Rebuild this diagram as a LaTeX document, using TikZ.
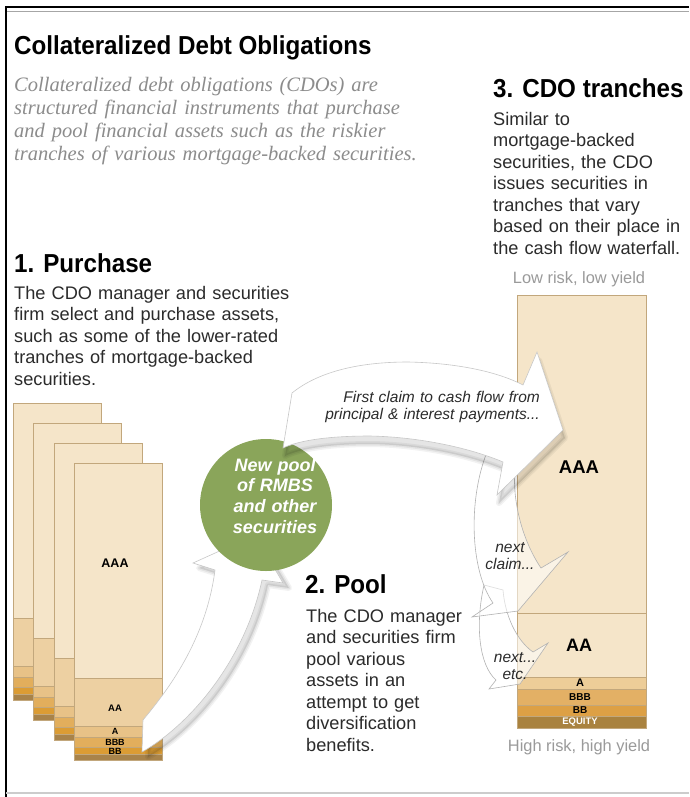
\documentclass[tikz,border=0pt]{standalone}
\usepackage{fontspec}
\setmainfont{Liberation Sans}
\newfontfamily\headfont[FakeStretch=0.93]{Liberation Sans}
\newfontfamily\serifit{Liberation Serif}
\definecolor{bodytext}{HTML}{2B2B2B}
\definecolor{introgrey}{HTML}{8C8C8C}
\definecolor{riskgrey}{HTML}{9A9A9A}
\definecolor{cAAA}{HTML}{F5E5C9}
\definecolor{cAA}{HTML}{EDD0A2}
\definecolor{cA}{HTML}{E8C287}
\definecolor{cBBB}{HTML}{E2AE5C}
\definecolor{cBB}{HTML}{DB9C34}
\definecolor{cEQ}{HTML}{A8834A}
\definecolor{rA}{HTML}{EDCD98}
\definecolor{rBBB}{HTML}{E3B065}
\definecolor{rBB}{HTML}{DDA045}
\definecolor{rEQ}{HTML}{A9823F}
\definecolor{cardline}{HTML}{C2A77C}
\definecolor{poolgreen}{HTML}{8AA55A}
\def\pathArrowOne{(142,752) -- (143,720) .. controls (168,690) and (206,640) .. (215,570)
  -- (193,563) -- (255,535) -- (283,583) -- (262,580)
  .. controls (245,660) and (190,725) .. (142,752) -- cycle}
\def\pathArrowTwo{(292,393) .. controls (318,372) and (358,362) .. (408,362)
  .. controls (458,363) and (498,372) .. (523,385)
  -- (537,352) -- (563,430) -- (497,495) -- (503,462)
  .. controls (470,448) and (420,437) .. (370,436)
  .. controls (330,436) and (300,440) .. (283,448) -- cycle}
\begin{document}
\begin{tikzpicture}[x=1pt,y=-1pt,
  headtext/.style={anchor=base west, inner sep=0pt, text=black,
    font=\headfont\bfseries\fontsize{26}{30}\selectfont},
  bodytxt/.style={anchor=base west, inner sep=0pt, align=left, text width=#1,
    text=bodytext, font=\fontsize{18.2}{21.5}\selectfont},
  riskl/.style={anchor=base, inner sep=0pt, text=riskgrey,
    font=\fontsize{16.4}{18}\selectfont},
  smalllab/.style={anchor=center, inner sep=0pt, text=black,
    font=\bfseries\fontsize{#1}{#1}\selectfont},
  bigarrow/.style={fill=white, draw=black!22, line width=0.6pt, line join=miter},
  softshadow/.style={black, opacity=#1, line join=round},
  ghostarrow/.style={fill=white, fill opacity=0.55, draw=black!30, line width=0.6pt},
  claimtxt/.style={inner sep=0pt, text=bodytext, font=\itshape\fontsize{15.5}{17.5}\selectfont}
]
\useasboundingbox (0,0) rectangle (689,797);
\fill[white] (0,0) rectangle (689,797);
% frame
\draw[black, line width=2pt] (5,7.5) -- (689,7.5);
\draw[black!35, line width=0.8pt] (7,11) -- (689,11);
\draw[black, line width=2pt] (6,6.5) -- (6,797);
\draw[black!20, line width=2pt] (6,793) -- (689,793);

% headings and texts
\node[headtext] (title) at (14,55) {Collateralized Debt Obligations};
\node[anchor=base west, inner sep=0pt, align=left, text width=440, text=introgrey,
  font=\serifit\itshape\fontsize{20.5}{22.7}\selectfont] (intro) at (14,92)
  {Collateralized debt obligations (CDOs) are\\structured financial instruments that purchase\\and pool financial assets such as the riskier\\tranches of various mortgage-backed securities.};
\node[headtext] (h3) at (493,98) {3. CDO tranches};
\node[bodytxt=200] (t3) at (493,125)
  {Similar to\\mortgage-backed\\securities, the CDO\\issues securities in\\tranches that vary\\based on their place in\\the cash flow waterfall.};
\node[headtext] (h1) at (14,272) {1. Purchase};
\node[bodytxt=300] (t1) at (14,299)
  {The CDO manager and securities\\firm select and purchase assets,\\such as some of the lower-rated\\tranches of mortgage-backed\\securities.};
\node[headtext] (h2) at (305,593) {2. Pool};
\node[bodytxt=180] (t2) at (306,622)
  {The CDO manager\\and securities firm\\pool various\\assets in an\\attempt to get\\diversification\\benefits.};

% stack of securities
\foreach \x/\y in {13/403,33/423,54/443,74/463} {
  \fill[cAAA] (\x,\y) rectangle ++(88,215);
  \fill[cAA] (\x,\y+215) rectangle ++(88,48);
  \fill[cA] (\x,\y+263) rectangle ++(88,11);
  \fill[cBBB] (\x,\y+274) rectangle ++(88,10);
  \fill[cBB] (\x,\y+284) rectangle ++(88,7);
  \fill[cEQ] (\x,\y+291) rectangle ++(88,6);
  \foreach \b in {215,263,274,284,291} {
    \draw[cardline, line width=0.5pt] (\x,\y+\b) -- ++(88,0);
  }
  \draw[cardline, line width=0.6pt] (\x,\y) rectangle ++(88,297);
}
\node[smalllab=12.5] (sAAA) at (115,563) {AAA};
\node[smalllab=9.5] (sAA) at (115,708) {AA};
\node[smalllab=9] (sA) at (115,731) {A};
\node[smalllab=9] (sBBB) at (115,742) {BBB};
\node[smalllab=9] (sBB) at (115,751) {BB};

% CDO tranche column
\fill[cAAA] (517,295) rectangle (646,677);
\fill[rA] (517,677) rectangle (646,689);
\fill[rBBB] (517,689) rectangle (646,705);
\fill[rBB] (517,705) rectangle (646,716);
\fill[rEQ] (517,716) rectangle (646,728);
\foreach \b in {613,677,689,705,716} {
  \draw[cardline, line width=0.6pt] (517,\b) -- (646,\b);
}
\draw[cardline, line width=0.7pt] (517,295) rectangle (646,728);
\node[riskl] (low) at (579,283) {Low risk, low yield};
\node[riskl] (high) at (579,751) {High risk, high yield};
\node[smalllab=18.5] (rAAA) at (579,467) {AAA};
\node[smalllab=18] (rAAn) at (579,645) {AA};
\node[smalllab=11] (rAn) at (580,683) {A};
\node[smalllab=10] (rBBBn) at (580,697) {BBB};
\node[smalllab=10] (rBBn) at (580,710.5) {BB};
\node[smalllab=9.5, text=white] (rEQn) at (580,722) {EQUITY};

% arrow from stack to pool (with soft shadow)
\begin{scope}[shift={(6,5)}]
  \draw[softshadow=0.05, line width=6pt] \pathArrowOne;
  \draw[softshadow=0.06, line width=3pt] \pathArrowOne;
  \fill[softshadow=0.10] \pathArrowOne;
\end{scope}
\path[bigarrow] \pathArrowOne;

% pool circle
\node[circle, fill=poolgreen, minimum size=132pt, inner sep=0pt] (pool) at (266,505) {};
\node[anchor=base, inner sep=0pt, align=center, text width=110, text=white,
  font=\bfseries\itshape\fontsize{18}{20.7}\selectfont] (pooltext) at (275,471)
  {New pool\\of RMBS\\and other\\securities};

% ghost arrows (next claims)
\path[ghostarrow] (484,585) .. controls (475,625) and (479,665) .. (496,680)
  -- (489,689) -- (520,684) -- (548,643) -- (533,652)
  .. controls (516,640) and (505,615) .. (503,590) -- cycle;
\path[ghostarrow] (487,452) .. controls (468,500) and (470,570) .. (493,603)
  -- (472,617) -- (518,611) -- (568,552) -- (541,568)
  .. controls (522,540) and (512,500) .. (515,468) -- cycle;

% main arrow to tranches (with soft shadow)
\begin{scope}[shift={(2,8)}]
  \draw[softshadow=0.05, line width=6pt] \pathArrowTwo;
  \draw[softshadow=0.06, line width=3pt] \pathArrowTwo;
  \fill[softshadow=0.10] \pathArrowTwo;
\end{scope}
\path[bigarrow] \pathArrowTwo;

\node[claimtxt, anchor=base east, align=right, text width=260] (claim1) at (540,402)
  {First claim to cash flow from\\principal \& interest payments...};
\node[claimtxt, anchor=base, align=center, text width=70] (claim2) at (510,552)
  {next\\claim...};
\node[claimtxt, anchor=base, align=center, text width=70] (claim3) at (515,662)
  {next...\\etc.};
\end{tikzpicture}
\end{document}
